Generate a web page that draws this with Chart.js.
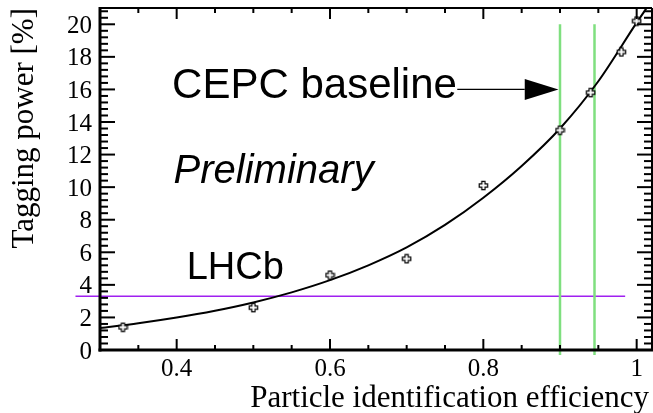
<!DOCTYPE html>
<html>
<head>
<meta charset="utf-8">
<script src="https://cdn.jsdelivr.net/npm/chart.js@4.4.0/dist/chart.umd.min.js"></script>
<style>
  body { margin: 0; background: #fff; }
  canvas { display: block; }
</style>
</head>
<body>
<canvas id="tagChart" width="653" height="413"></canvas>
<script>
// measured points
const pidEff = [0.33, 0.5, 0.6, 0.7, 0.8, 0.9, 0.94, 0.98, 1.0];
const tagPower = [1.4, 2.6, 4.6, 5.6, 10.1, 13.5, 15.8, 18.3, 20.2];

// fit curve
const fitEff = [0.30, 0.35, 0.40, 0.45, 0.50, 0.55, 0.60, 0.65, 0.70, 0.75, 0.80, 0.85, 0.90, 0.95, 1.00, 1.013];
const fitPower = [1.35, 1.64, 1.99, 2.41, 2.92, 3.54, 4.29, 5.2, 6.3, 7.68, 9.35, 11.3, 13.6, 16.5, 20.1, 21.0];

// reference lines
const cepcEff = [0.9, 0.945];
const cepcSpan = [-0.3, 20];
const lhcbPower = 3.3;
const lhcbSpan = [0.268, 0.985];

const xTickLabels = ["0.4", "0.6", "0.8", "1"];
const xTickValues = [0.4, 0.6, 0.8, 1.0];
const yTickValues = [0, 2, 4, 6, 8, 10, 12, 14, 16, 18, 20];

function toPoints(xs, ys) {
    return xs.map(function (x, i) { return { x: x, y: ys[i] }; });
}

function openCross() {
    const c = document.createElement("canvas");
    c.width = 11;
    c.height = 11;
    const g = c.getContext("2d");
    const cx = 5.5, cy = 5.5, a = 1.6, b = 4.2;
    const pts = [[-a, -b], [a, -b], [a, -a], [b, -a], [b, a], [a, a], [a, b], [-a, b], [-a, a], [-b, a], [-b, -a], [-a, -a]];
    g.beginPath();
    pts.forEach(function (p, i) {
        if (i === 0) g.moveTo(cx + p[0], cy + p[1]);
        else g.lineTo(cx + p[0], cy + p[1]);
    });
    g.closePath();
    g.fillStyle = "#fff";
    g.fill();
    g.strokeStyle = "#000";
    g.lineWidth = 1.2;
    g.stroke();
    return c;
}

const frame = {
    id: "frame",
    beforeDraw(chart) {
        const ctx = chart.ctx;
        ctx.save();
        ctx.fillStyle = "#fff";
        ctx.fillRect(0, 0, chart.width, chart.height);
        ctx.restore();
    },
    afterDraw(chart) {
        const ctx = chart.ctx;
        const area = chart.chartArea;
        const x = chart.scales.x;
        const y = chart.scales.y;

        function line(x1, y1, x2, y2) {
            ctx.beginPath();
            ctx.moveTo(x1, y1);
            ctx.lineTo(x2, y2);
            ctx.stroke();
        }

        ctx.save();
        ctx.strokeStyle = "#000";
        ctx.lineWidth = 2;

        // y ticks, left and right
        for (let i = 0; i <= 52; i++) {
            const py = y.getPixelForValue(i * 0.4);
            const len = i % 5 === 0 ? 15 : 8;
            line(area.left, py, area.left + len, py);
            line(area.right, py, area.right - len, py);
        }
        // x ticks, bottom and top
        for (let i = 7; i <= 20; i++) {
            const px = x.getPixelForValue(i * 0.05);
            const major = i % 4 === 0;
            line(px, area.bottom, px, area.bottom - (major ? 11 : 5));
            line(px, area.top, px, area.top + (major ? 11 : 5));
        }

        // frame
        ctx.lineWidth = 3;
        line(area.left, area.top - 1, area.left, area.bottom + 1.5);
        line(area.left - 1.5, area.bottom, area.right + 1, area.bottom);
        ctx.lineWidth = 2;
        line(area.left, area.top, area.right, area.top);
        line(area.right, area.top, area.right, area.bottom);

        // tick labels
        ctx.fillStyle = "#000";
        ctx.font = "25px 'Liberation Serif'";
        ctx.textAlign = "right";
        ctx.textBaseline = "middle";
        yTickValues.forEach(function (v) {
            ctx.fillText(String(v), area.left - 8, y.getPixelForValue(v) + 2);
        });
        ctx.textAlign = "center";
        ctx.textBaseline = "alphabetic";
        xTickValues.forEach(function (v, i) {
            ctx.fillText(xTickLabels[i], x.getPixelForValue(v), area.bottom + 26);
        });

        // axis titles
        ctx.font = "31px 'Liberation Serif'";
        ctx.textAlign = "right";
        ctx.fillText("Particle identification efficiency", 649, 407);
        ctx.save();
        ctx.translate(33, 8);
        ctx.rotate(-Math.PI / 2);
        ctx.textAlign = "right";
        ctx.fillText("Tagging power [%]", 0, 0);
        ctx.restore();

        // annotations
        ctx.textAlign = "left";
        ctx.font = "42px 'Liberation Sans'";
        ctx.fillText("CEPC baseline", x.getPixelForValue(0.394), y.getPixelForValue(15.47));
        ctx.font = "italic 40px 'Liberation Sans'";
        ctx.fillText("Preliminary", x.getPixelForValue(0.396), y.getPixelForValue(10.25));
        ctx.font = "38px 'Liberation Sans'";
        ctx.fillText("LHCb", x.getPixelForValue(0.413), y.getPixelForValue(4.36));

        // arrow to CEPC baseline
        const ay = y.getPixelForValue(16);
        const ax0 = x.getPixelForValue(0.766);
        const axb = x.getPixelForValue(0.854);
        const axt = x.getPixelForValue(0.898);
        ctx.lineWidth = 1.2;
        line(ax0, ay, axb, ay);
        ctx.beginPath();
        ctx.moveTo(axt, ay);
        ctx.lineTo(axb, ay - 10.5);
        ctx.lineTo(axb, ay + 10.5);
        ctx.closePath();
        ctx.fill();

        ctx.restore();
    }
};

new Chart(document.getElementById("tagChart"), {
    type: "scatter",
    data: {
        datasets: [
            {
                label: "points",
                data: toPoints(pidEff, tagPower),
                pointStyle: openCross(),
                pointRadius: 5,
                order: 0,
            },
            {
                label: "fit",
                data: toPoints(fitEff, fitPower),
                showLine: true,
                borderColor: "#000",
                borderWidth: 2,
                pointRadius: 0,
                cubicInterpolationMode: "monotone",
                order: 1,
            },
            {
                label: "CEPC 0.9",
                data: toPoints([cepcEff[0], cepcEff[0]], cepcSpan),
                showLine: true,
                borderColor: "#7fdf7f",
                borderWidth: 2.5,
                pointRadius: 0,
                clip: false,
                order: 2,
            },
            {
                label: "CEPC 0.945",
                data: toPoints([cepcEff[1], cepcEff[1]], cepcSpan),
                showLine: true,
                borderColor: "#7fdf7f",
                borderWidth: 2.5,
                pointRadius: 0,
                clip: false,
                order: 2,
            },
            {
                label: "LHCb",
                data: toPoints(lhcbSpan, [lhcbPower, lhcbPower]),
                showLine: true,
                borderColor: "#a020f0",
                borderWidth: 1.5,
                pointRadius: 0,
                clip: false,
                order: 3,
            },
        ],
    },
    options: {
        responsive: false,
        animation: false,
        layout: { autoPadding: false, padding: { left: 100, right: 1, top: 8, bottom: 63 } },
        plugins: {
            legend: { display: false },
            tooltip: { enabled: false },
        },
        scales: {
            x: { type: "linear", min: 0.3, max: 1.02, display: false },
            y: { type: "linear", min: 0, max: 21, display: false },
        },
    },
    plugins: [frame],
});
</script>
</body>
</html>
